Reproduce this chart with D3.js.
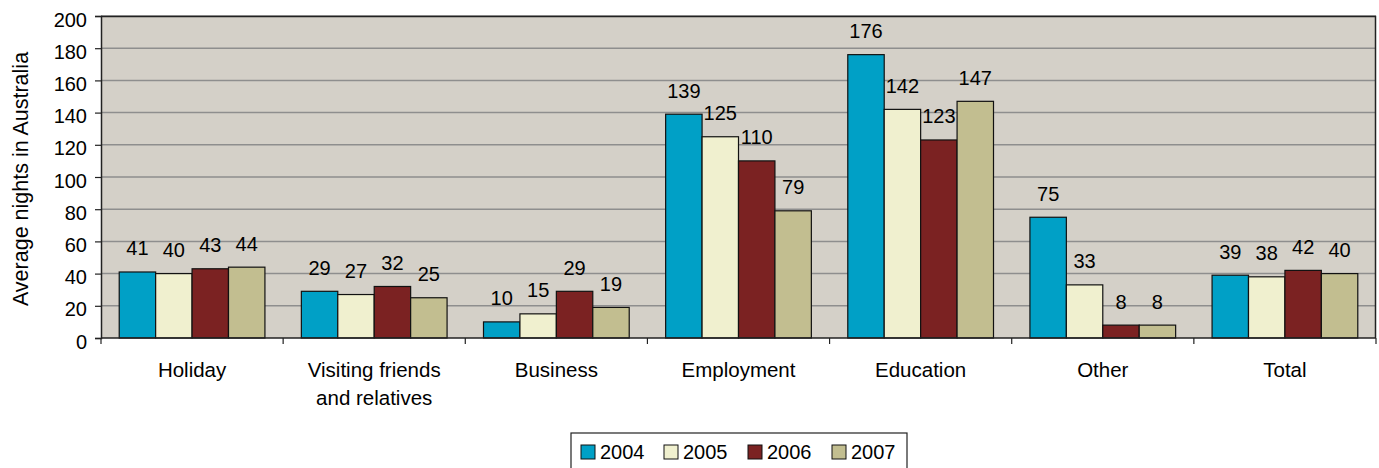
<!DOCTYPE html>
<html>
<head>
<meta charset="utf-8">
<script src="https://cdn.jsdelivr.net/npm/d3@7"></script>
<style>
  body { margin: 0; background: #fff; }
  svg { display: block; font-family: "Liberation Sans", Arial, sans-serif; }
</style>
</head>
<body>
<svg id="chart" width="1379" height="468"></svg>
<script>
// Average nights in Australia by purpose of visit, 2004–2007
const categories = ["Holiday", "Visiting friends\nand relatives", "Business", "Employment", "Education", "Other", "Total"];
const years = ["2004", "2005", "2006", "2007"];
const v2004 = [41, 29, 10, 139, 176, 75, 39];
const v2005 = [40, 27, 15, 125, 142, 33, 38];
const v2006 = [43, 32, 29, 110, 123, 8, 42];
const v2007 = [44, 25, 19, 79, 147, 8, 40];
const yTicks = [0, 20, 40, 60, 80, 100, 120, 140, 160, 180, 200];
const colors = ["#00A0C6", "#F0F0CF", "#7B2222", "#C2BE90"];

const series = [v2004, v2005, v2006, v2007];
const svg = d3.select("#chart");
const margin = { left: 101, top: 16, right: 3 };
const W = 1379;
const pw = W - margin.left - margin.right;
const ph = 338 - margin.top;
const FS = 20;

const x0 = d3.scaleBand().domain(categories).range([0, pw]).paddingInner(0).paddingOuter(0);
const x1 = d3.scaleBand().domain(years).range([0, x0.bandwidth()]).paddingOuter(0.5).paddingInner(0);
const y = d3.scaleLinear().domain([0, 200]).range([ph, 0]);

const g = svg.append("g").attr("transform", `translate(${margin.left},${margin.top})`);

// plot background
g.append("rect").attr("x", 0).attr("y", 0).attr("width", pw).attr("height", ph)
  .attr("fill", "#D4D0C8");

// gridlines
g.append("g").selectAll("line").data(yTicks.filter(d => d > 0)).join("line")
  .attr("x1", 0).attr("x2", pw)
  .attr("y1", d => y(d)).attr("y2", d => y(d))
  .attr("stroke", "#8E8E8E").attr("stroke-width", 1.5);

// plot border (top and right)
g.append("path").attr("d", `M0,0.5H${pw - 0.5}V${ph}`)
  .attr("fill", "none").attr("stroke", "#222").attr("stroke-width", 1.5);

// bars with value labels
const groups = g.append("g").selectAll("g").data(categories).join("g")
  .attr("transform", d => `translate(${x0(d)},0)`);

groups.each(function (cat, ci) {
  const gg = d3.select(this);
  years.forEach((yr, si) => {
    const val = series[si][ci];
    gg.append("rect")
      .attr("x", x1(yr)).attr("y", y(val))
      .attr("width", x1.bandwidth()).attr("height", ph - y(val))
      .attr("fill", colors[si]).attr("stroke", "#111").attr("stroke-width", 1.2);
    gg.append("text")
      .attr("x", x1(yr) + x1.bandwidth() / 2)
      .attr("y", y(val) - 16.5)
      .attr("text-anchor", "middle")
      .attr("font-size", FS).attr("fill", "#000")
      .text(val);
  });
});

// y axis
const yAxis = g.append("g").call(d3.axisLeft(y).tickValues(yTicks).tickSize(6).tickPadding(8));
yAxis.select(".domain").attr("stroke", "#222").attr("stroke-width", 1.5);
yAxis.selectAll(".tick line").attr("stroke", "#222").attr("stroke-width", 1.2);
yAxis.selectAll("text").attr("font-size", FS).attr("fill", "#000").attr("dy", "0.5em")
  .attr("font-family", "Liberation Sans, Arial, sans-serif");

// x axis
const xAxisG = g.append("g").attr("transform", `translate(0,${ph})`);
xAxisG.append("line").attr("x1", 0).attr("x2", pw).attr("y1", 0).attr("y2", 0)
  .attr("stroke", "#222").attr("stroke-width", 1.5);
xAxisG.selectAll("line.tick").data(d3.range(categories.length + 1)).join("line")
  .attr("class", "tick")
  .attr("x1", i => i * x0.bandwidth()).attr("x2", i => i * x0.bandwidth())
  .attr("y1", 0).attr("y2", 6)
  .attr("stroke", "#222").attr("stroke-width", 1.2);
xAxisG.selectAll("text.cat").data(categories).join("text")
  .attr("class", "cat")
  .attr("x", d => x0(d) + x0.bandwidth() / 2)
  .attr("y", 39)
  .attr("text-anchor", "middle")
  .attr("font-size", 20.5).attr("fill", "#000")
  .each(function (d) {
    const lines = d.split("\n");
    const t = d3.select(this);
    lines.forEach((ln, i) => {
      t.append("tspan").attr("x", x0(d) + x0.bandwidth() / 2).attr("dy", i === 0 ? 0 : 28).text(ln);
    });
  });

// y axis title
svg.append("text")
  .attr("transform", `translate(28,${margin.top + ph / 2 + 2}) rotate(-90)`)
  .attr("text-anchor", "middle")
  .attr("font-size", 21.5).attr("fill", "#000")
  .text("Average nights in Australia");

// legend
const legend = svg.append("g").attr("transform", "translate(571,433)");
legend.append("rect").attr("x", 0).attr("y", 0).attr("width", 336).attr("height", 40)
  .attr("fill", "#fff").attr("stroke", "#222").attr("stroke-width", 1.2);
const legendX = [10, 93, 177, 261];
years.forEach((yr, i) => {
  legend.append("rect").attr("x", legendX[i]).attr("y", 12).attr("width", 14).attr("height", 14)
    .attr("fill", colors[i]).attr("stroke", "#111").attr("stroke-width", 1);
  legend.append("text").attr("x", legendX[i] + 19).attr("y", 25.5)
    .attr("font-size", FS).attr("fill", "#000").text(yr);
});
</script>
</body>
</html>
